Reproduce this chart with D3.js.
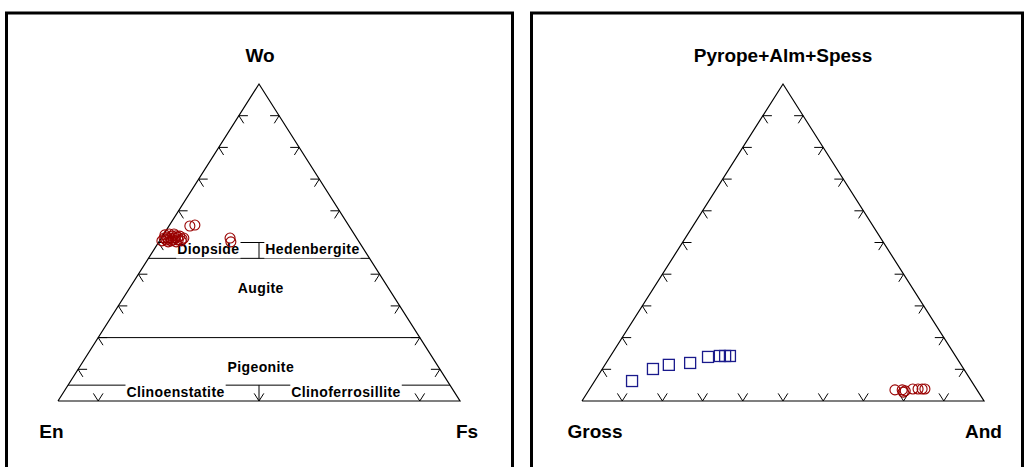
<!DOCTYPE html>
<html>
<head>
<meta charset="utf-8">
<script src="https://d3js.org/d3.v7.min.js"></script>
<style>
	body { margin: 0; background: #fff; }
	text { font-family: "Liberation Sans", Arial, sans-serif; font-weight: bold; fill: #000; }
</style>
</head>
<body>
<div class="graphic"></div>
<script>
var width = 1026;
var height = 467;

// pyroxene analyses, mol % (Wo top, En left, Fs right)
var pyxWo = [51.4, 51.7, 51.4, 52.0, 51.4, 51.7, 52.0, 50.8, 50.8, 51.1, 55.2, 55.5, 51.4, 50.2, 51.1, 52.1, 50.5, 51.4,
	52.4, 52.7, 52.7, 50.8, 50.5, 50.2, 50.5, 50.2];
var pyxEn = [47.9, 47.1, 46.4, 45.6, 45.2, 44.3, 43.7, 47.7, 46.0, 43.6, 39.6, 38.2, 31.5, 31.9, 47.1, 44.6, 46.6, 43.0,
	47.2, 46.0, 44.8, 44.7, 44.1, 47.5, 48.9, 45.5];
var pyxFs = [0.7, 1.2, 2.2, 2.4, 3.4, 4.0, 4.3, 1.5, 3.2, 5.3, 5.2, 6.3, 17.1, 17.9, 1.8, 3.3, 2.9, 5.6,
	0.4, 1.3, 2.5, 4.5, 5.4, 2.3, 0.6, 4.3];

// garnet analyses, mol % (Pyrope+Alm+Spess top, Gross left, And right)
var grtSqPAS = [6.3, 10.1, 11.4, 12.0, 13.9, 14.2, 14.2, 14.2];
var grtSqGross = [84.4, 77.3, 72.7, 67.1, 61.7, 58.6, 57.3, 56.1];
var grtSqAnd = [9.3, 12.6, 15.9, 20.9, 24.4, 27.2, 28.5, 29.7];

var grtCiPAS = [3.5, 3.5, 3.2, 3.8, 3.8, 3.8, 3.8, 2.8];
var grtCiGross = [20.4, 18.6, 18.0, 15.8, 14.5, 13.5, 12.8, 18.7];
var grtCiAnd = [76.1, 77.9, 78.8, 80.4, 81.7, 82.7, 83.4, 78.5];

var pyxCorners = ["Wo", "En", "Fs"];
var grtCorners = ["Pyrope+Alm+Spess", "Gross", "And"];
var tickSteps = [10, 20, 30, 40, 50, 60, 70, 80, 90];

// pyroxene quadrilateral boundaries (Wo %)
var woLevels = [5, 20, 45, 50];
var midSplits = [[0, 5], [45, 50]];
var fieldNames = ["Diopside", "Hedenbergite", "Augite", "Pigeonite", "Clinoenstatite", "Clinoferrosillite"];
var fieldTop = [46.4, 46.4, 34.1, 9.1, 1.3, 1.3];
var fieldRight = [14.2, 40.1, 33.4, 45.9, 28.6, 71.0];

var svg = d3.select("div.graphic").append("svg")
	.attr("width", width)
	.attr("height", height);

// panel frames
svg.append("rect")
	.attr("x", 6.5).attr("y", 13)
	.attr("width", 506).attr("height", 480)
	.attr("fill", "none").attr("stroke", "#000").attr("stroke-width", 3);
svg.append("rect")
	.attr("x", 531.5).attr("y", 13)
	.attr("width", 491).attr("height", 480)
	.attr("fill", "none").attr("stroke", "#000").attr("stroke-width", 3);

function makeTernary(x0){
	var xs = d3.scaleLinear().domain([0, 100]).range([x0, x0 + 402]);
	var ys = d3.scaleLinear().domain([0, 100]).range([401, 84]);
	// top = apex component, right = right-corner component
	return function(top, right){
		return [xs(right + top / 2), ys(top)];
	};
}

function unit(a, b){
	var dx = b[0] - a[0], dy = b[1] - a[1];
	var len = Math.sqrt(dx * dx + dy * dy);
	return [dx / len, dy / len];
}

function drawTernary(x0, corners, cornerPos){
	var proj = makeTernary(x0);
	var g = svg.append("g");
	var gLines = g.append("g");
	var gTicks = g.append("g");
	var gBoxes = g.append("g");
	var gOutline = g.append("g");
	var gLabels = g.append("g");
	var gPoints = g.append("g");

	var pL = proj(0, 0), pT = proj(100, 0), pR = proj(0, 100);
	var dLeftUp = unit(pL, pT), dRightDown = unit(pT, pR);
	var L = 9;
	var ticks = [];
	tickSteps.forEach(function(k){
		var a = proj(k, 0);
		ticks.push([a, [a[0] + L, a[1]]]);
		ticks.push([a, [a[0] + L * dRightDown[0], a[1] + L * dRightDown[1]]]);
		var b = proj(k, 100 - k);
		ticks.push([b, [b[0] - L, b[1]]]);
		ticks.push([b, [b[0] - L * dLeftUp[0], b[1] - L * dLeftUp[1]]]);
		var c = proj(0, k);
		ticks.push([c, [c[0] - L * dRightDown[0], c[1] - L * dRightDown[1]]]);
		ticks.push([c, [c[0] + L * dLeftUp[0], c[1] + L * dLeftUp[1]]]);
	});
	gTicks.selectAll("line")
		.data(ticks)
		.enter()
		.append("line")
		.attr("x1", function(d){ return d[0][0]; })
		.attr("y1", function(d){ return d[0][1]; })
		.attr("x2", function(d){ return d[1][0]; })
		.attr("y2", function(d){ return d[1][1]; })
		.attr("stroke", "#000")
		.attr("stroke-width", 1);

	gOutline.append("path")
		.attr("d", d3.line()([pL, pT, pR, pL]))
		.attr("fill", "none")
		.attr("stroke", "#000")
		.attr("stroke-width", 1.2);

	gLabels.selectAll("text.corner")
		.data(corners)
		.enter()
		.append("text")
		.attr("class", "corner")
		.attr("x", function(d, i){ return cornerPos[i][0]; })
		.attr("y", function(d, i){ return cornerPos[i][1]; })
		.attr("text-anchor", "middle")
		.style("font-size", "19px")
		.text(function(d){ return d; });

	return {proj: proj, lines: gLines, boxes: gBoxes, labels: gLabels, points: gPoints};
}

// ---- pyroxene ----
var pyx = drawTernary(58, pyxCorners, [[260, 62], [51.5, 438], [467, 438]]);

pyx.lines.selectAll("line.level")
	.data(woLevels)
	.enter()
	.append("line")
	.attr("class", "level")
	.attr("x1", function(d){ return pyx.proj(d, 0)[0]; })
	.attr("y1", function(d){ return pyx.proj(d, 0)[1]; })
	.attr("x2", function(d){ return pyx.proj(d, 100 - d)[0]; })
	.attr("y2", function(d){ return pyx.proj(d, 100 - d)[1]; })
	.attr("stroke", "#000");
pyx.lines.selectAll("line.split")
	.data(midSplits)
	.enter()
	.append("line")
	.attr("class", "split")
	.attr("x1", function(d){ return pyx.proj(d[0], (100 - d[0]) / 2)[0]; })
	.attr("y1", function(d){ return pyx.proj(d[0], (100 - d[0]) / 2)[1]; })
	.attr("x2", function(d){ return pyx.proj(d[1], (100 - d[1]) / 2)[0]; })
	.attr("y2", function(d){ return pyx.proj(d[1], (100 - d[1]) / 2)[1]; })
	.attr("stroke", "#000");

pyx.labels.selectAll("text.field")
	.data(fieldNames)
	.enter()
	.append("text")
	.attr("class", "field")
	.attr("x", function(d, i){ return pyx.proj(fieldTop[i], fieldRight[i])[0]; })
	.attr("y", function(d, i){ return pyx.proj(fieldTop[i], fieldRight[i])[1]; })
	.attr("text-anchor", "middle")
	.style("font-size", "14px")
	.style("letter-spacing", "0.4px")
	.text(function(d){ return d; })
	.each(function(){
		var bb = this.getBBox();
		pyx.boxes.append("rect")
			.attr("x", bb.x - 1)
			.attr("y", bb.y - 2)
			.attr("width", bb.width + 2)
			.attr("height", bb.height + 3.5)
			.attr("fill", "#fff");
	});

pyx.points.selectAll("circle")
	.data(pyxWo)
	.enter()
	.append("circle")
	.attr("cx", function(d, i){ return pyx.proj(pyxWo[i], pyxFs[i])[0]; })
	.attr("cy", function(d, i){ return pyx.proj(pyxWo[i], pyxFs[i])[1]; })
	.attr("r", 5)
	.attr("fill", "none")
	.attr("stroke", "#990000")
	.attr("stroke-width", 1.1);

// ---- garnet ----
var grt = drawTernary(582, grtCorners, [[783, 62], [595, 438], [983.5, 438]]);

grt.points.selectAll("rect")
	.data(grtSqPAS)
	.enter()
	.append("rect")
	.attr("x", function(d, i){ return grt.proj(grtSqPAS[i], grtSqAnd[i])[0] - 5.5; })
	.attr("y", function(d, i){ return grt.proj(grtSqPAS[i], grtSqAnd[i])[1] - 5.5; })
	.attr("width", 11)
	.attr("height", 11)
	.attr("fill", "none")
	.attr("stroke", "#1a1a8c")
	.attr("stroke-width", 1.3);

grt.points.selectAll("circle")
	.data(grtCiPAS)
	.enter()
	.append("circle")
	.attr("cx", function(d, i){ return grt.proj(grtCiPAS[i], grtCiAnd[i])[0]; })
	.attr("cy", function(d, i){ return grt.proj(grtCiPAS[i], grtCiAnd[i])[1]; })
	.attr("r", 5)
	.attr("fill", "none")
	.attr("stroke", "#990000")
	.attr("stroke-width", 1.1);
</script>
</body>
</html>
